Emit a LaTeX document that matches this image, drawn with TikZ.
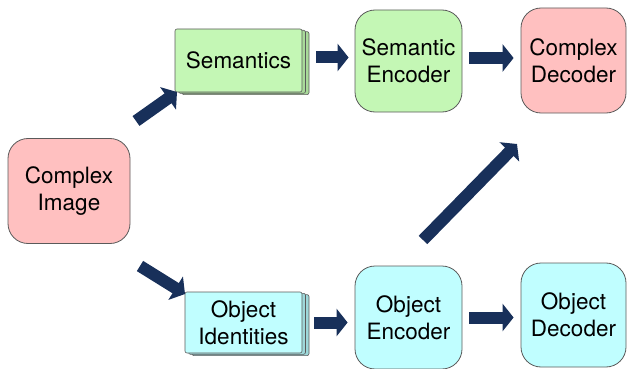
\documentclass[tikz,border=0pt]{standalone}
\usepackage{fontspec}
\setmainfont{TeX Gyre Heros}
\usetikzlibrary{arrows.meta,shadows}
\definecolor{pinkf}{HTML}{FFC0C0}
\definecolor{greenf}{HTML}{C4F7B5}
\definecolor{greend}{HTML}{A9DA9A}
\definecolor{cyanf}{HTML}{C0FEFF}
\definecolor{cyand}{HTML}{9ED8DA}
\definecolor{navy}{HTML}{18305A}
\definecolor{edge}{HTML}{5A5A5A}
\begin{document}
\begin{tikzpicture}[x=1pt,y=-1pt,
  lbl/.style={align=center,font=\fontsize{22.5}{27}\selectfont,inner sep=0pt},
  box/.style={lbl,draw=edge,line width=0.8pt,rounded corners=20pt},
  stackbox/.style={lbl,draw=edge,line width=0.6pt,rounded corners=2pt,
    double copy shadow={shadow xshift=3.5pt,shadow yshift=-1.3pt,fill=#1,draw=edge}},
  blk/.style={draw=navy,line width=12pt,-{Triangle[width=27pt,length=11pt]}}
]
\useasboundingbox (0,0) rectangle (627,369);
\node[box,fill=pinkf,minimum width=122pt,minimum height=105pt] (img) at (69,191) {Complex\\Image};
\node[stackbox=greend,fill=greenf,minimum width=127pt,minimum height=63pt] (sem) at (238.5,60.5) {Semantics};
\node[box,fill=greenf,minimum width=107pt,minimum height=102pt] (senc) at (408.5,61) {Semantic\\Encoder};
\node[box,fill=pinkf,minimum width=105pt,minimum height=105pt] (cdec) at (573.5,60.5) {Complex\\Decoder};
\node[stackbox=cyand,fill=cyanf,minimum width=117pt,minimum height=61pt] (oid) at (243.5,322.5) {Object\\Identities};
\node[box,fill=cyanf,minimum width=107pt,minimum height=103pt] (oenc) at (408.5,317.5) {Object\\Encoder};
\node[box,fill=cyanf,minimum width=105pt,minimum height=104pt] (odec) at (573.5,315) {Object\\Decoder};
\coordinate (a1s) at (136,121);
\coordinate (a1e) at (177,92);
\coordinate (a2s) at (140,266);
\coordinate (a2e) at (185,294);
\coordinate (a3s) at (423,240);
\coordinate (a3e) at (517,144);
\draw[blk] (a1s) -- (a1e);
\draw[blk] (a2s) -- (a2e);
\draw[blk] (a3s) -- (a3e);
\draw[blk,shorten <=14pt,shorten >=6pt] ([yshift=3pt]sem.east) -- ([yshift=3pt]sem.east -| senc.west);
\draw[blk,shorten <=7pt,shorten >=7pt] ([yshift=3pt]senc.east) -- ([yshift=3pt]senc.east -| cdec.west);
\draw[blk,shorten <=12pt,shorten >=7pt] (oid.east) -- (oid.east -| oenc.west);
\draw[blk,shorten <=7pt,shorten >=7pt] (oenc.east) -- (oenc.east -| odec.west);
\end{tikzpicture}
\end{document}
